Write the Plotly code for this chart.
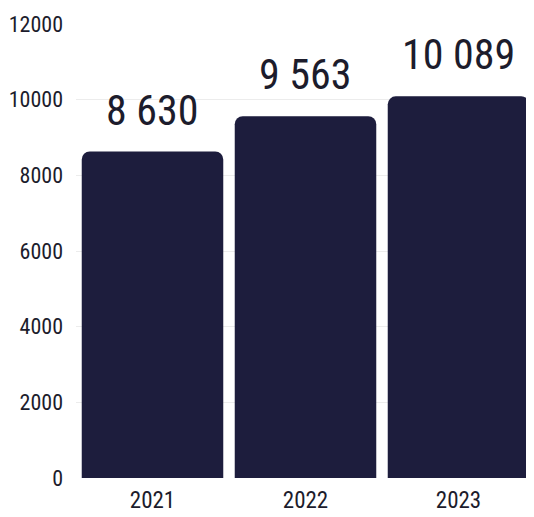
import plotly.graph_objects as go

years = ["2021", "2022", "2023"]
values = [8630, 9563, 10089]
labels = ["8 630", "9 563", "10 089"]
yticks = [0, 2000, 4000, 6000, 8000, 10000, 12000]

bar_color = "#1d1d3d"
text_color = "#1c1c2c"
font_family = "Roboto Condensed, Noto Sans Condensed, Liberation Sans Narrow, Roboto, sans-serif"

fig = go.Figure()
fig.add_trace(go.Bar(x=years, y=values, marker=dict(color=bar_color, line=dict(width=0)),
                     hoverinfo="skip"))

for i, (v, lab) in enumerate(zip(values, labels)):
    fig.add_annotation(x=i, y=v, xref="x", yref="y", text=lab, showarrow=False,
                       yanchor="bottom", yshift=15,
                       font=dict(size=42, color=text_color, family=font_family))

fig.update_layout(
    width=534, height=517,
    margin=dict(l=68, r=7, t=16, b=47, autoexpand=False),
    paper_bgcolor="white", plot_bgcolor="white",
    bargap=0.075, barcornerradius=8,
    showlegend=False,
    font=dict(family=font_family, color=text_color, size=23),
)
fig.update_xaxes(type="category", range=[-0.5, 2.5], showgrid=False, showline=False,
                 automargin=False, ticks="", tickfont=dict(size=23), ticklabelstandoff=6)
fig.update_yaxes(range=[0, 12000], tickvals=yticks, ticktext=[str(t) for t in yticks],
                 automargin=False, showgrid=True, gridcolor="#ececec", gridwidth=1,
                 zeroline=False, showline=False, ticks="", tickfont=dict(size=22),
                 ticklabelstandoff=12)

fig.write_html("out.html")
